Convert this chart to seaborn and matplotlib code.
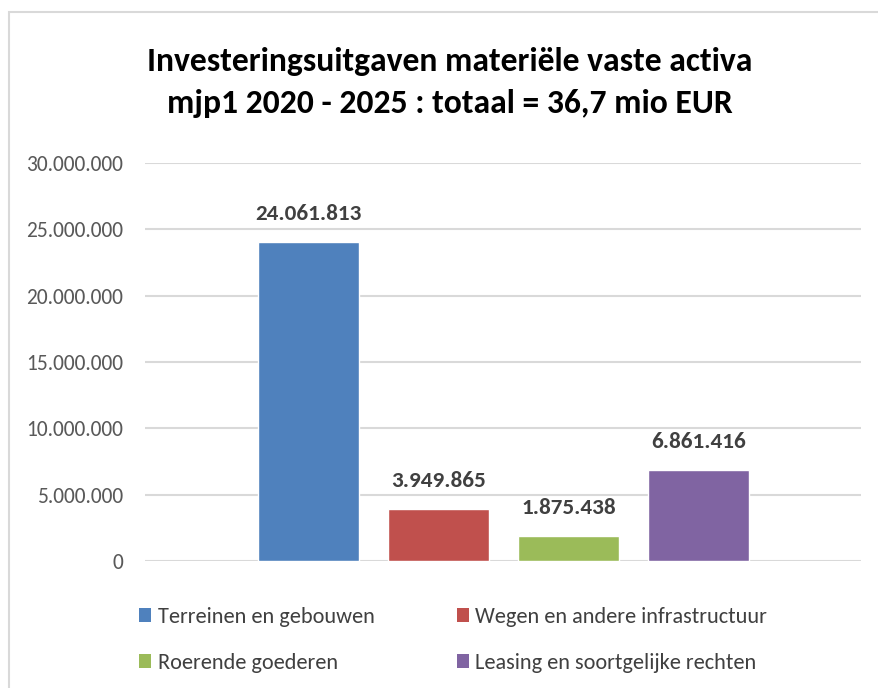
import matplotlib
matplotlib.use("Agg")
import matplotlib.pyplot as plt
import seaborn as sns
import pandas as pd
from matplotlib.patches import Patch, Rectangle

categories = ["Terreinen en gebouwen", "Wegen en andere infrastructuur",
              "Roerende goederen", "Leasing en soortgelijke rechten"]
values = [24061813, 3949865, 1875438, 6861416]
value_labels = ["24.061.813", "3.949.865", "1.875.438", "6.861.416"]
colors = ["#4F81BD", "#C0504D", "#9BBB59", "#8064A2"]
yticks = [0, 5000000, 10000000, 15000000, 20000000, 25000000, 30000000]
ytick_labels = ["0", "5.000.000", "10.000.000", "15.000.000", "20.000.000", "25.000.000", "30.000.000"]
title_lines = ["Investeringsuitgaven materiële vaste activa", "mjp1 2020 - 2025 : totaal = 36,7 mio EUR"]

sns.set_theme(style="white")
FONT = ["Carlito", "DejaVu Sans"]
plt.rcParams["font.family"] = FONT

W, H = 879, 688
fig = plt.figure(figsize=(W / 100, H / 100), dpi=100)
fig.patch.set_facecolor("white")

# outer chart border
fig.add_artist(Rectangle((9 / W, -0.05), 1.1, 1 - 12 / H + 0.05, transform=fig.transFigure,
                         fill=False, edgecolor="#D9D9D9", linewidth=1.5))

ax = fig.add_axes([145 / W, 127 / H, (861 - 145) / W, (561 - 163) / H])
df = pd.DataFrame({"cat": categories, "val": values})
sns.barplot(data=df, x="cat", y="val", hue="cat", palette=colors, order=categories,
            hue_order=categories, width=0.78, legend=False, ax=ax, saturation=1)

ax.set_xlim(-1.258, 4.25)
ax.set_ylim(0, 30000000)
ax.set_yticks(yticks)
ax.set_yticklabels(ytick_labels, color="#595959", fontsize=15.5)
ax.set_xticks([])
ax.set_xlabel("")
ax.set_ylabel("")
ax.tick_params(axis="y", length=0, pad=15.8)
for s in ax.spines.values():
    s.set_visible(False)
ax.yaxis.grid(True, color="#D9D9D9", linewidth=1.5)
ax.set_axisbelow(True)

for i, (v, lab) in enumerate(zip(values, value_labels)):
    ax.annotate(lab, (i, v), xytext=(0, 13), textcoords="offset points",
                ha="center", va="bottom", fontsize=16.7, fontweight="bold", color="#404040")

title_x = 449.5 / W
fig.text(title_x, 1 - 62 / H, title_lines[0], ha="center", va="center", fontsize=24.2,
         fontweight="bold", color="black")
fig.text(title_x, 1 - 103 / H, title_lines[1], ha="center", va="center", fontsize=24.2,
         fontweight="bold", color="black")

handles = [Patch(facecolor=c, edgecolor="none") for c in colors]
order = [0, 2, 1, 3]
leg = fig.legend([handles[i] for i in order], [categories[i] for i in order], ncol=2,
                 loc="upper left", bbox_to_anchor=(139 / W, 1 - 607 / H), frameon=False,
                 borderpad=0, borderaxespad=0,
                 fontsize=16, handlelength=0.54, handleheight=0.6, handletextpad=0.3,
                 columnspacing=3.7, labelspacing=1.18, labelcolor="#404040")

fig.savefig("out.png", dpi=100, facecolor="white")
